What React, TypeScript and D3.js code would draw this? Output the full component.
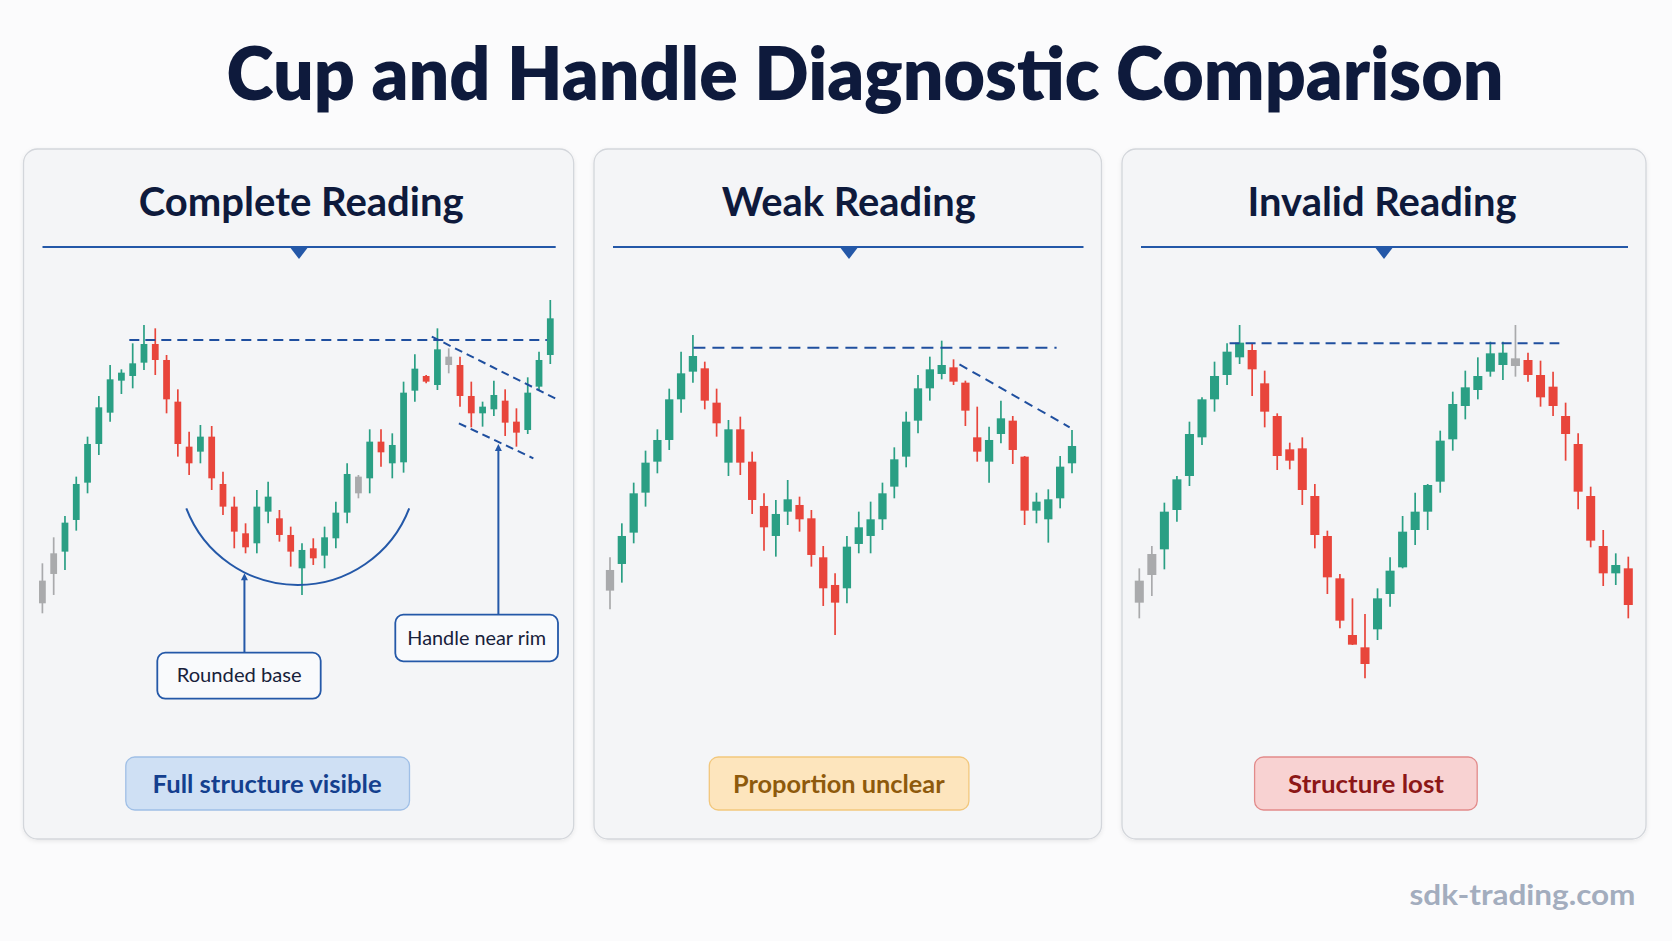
import React from "react";
import * as d3 from "d3";

// ---------------- DATA ----------------
// Panel 1: Complete Reading (46 candles)
const completeOpen = [6.0, 14.8, 21.5, 31, 42.2, 53.8, 63.2, 72.8, 74.2, 78.2, 83.8, 79, 66.5, 53, 51.5, 56, 41.8, 35, 27, 24, 33.5, 31.5, 26.5, 16.5, 22.5, 20.3, 25.5, 33.2, 39, 43.5, 54.5, 48, 48.3, 69.8, 74.2, 71.5, 77.5, 77.5, 68.2, 63, 64.2, 66.8, 60.5, 58, 71, 80.5];
const completeClose = [12.8, 21, 30.2, 41.8, 53.8, 64.8, 73.2, 75.2, 78, 83.8, 79, 67.2, 53.8, 48, 56, 43.5, 35, 27.5, 22.8, 35, 38, 26.5, 21.5, 22, 19.5, 25.8, 33.2, 44.8, 44, 54.5, 51.3, 53.5, 69.2, 76.4, 72.5, 82.2, 80, 68.2, 63, 65, 68.5, 60.2, 57.2, 69.2, 79, 91.5];
const completeHigh = [18, 25.8, 32.2, 44, 56, 68.2, 77.5, 76.2, 84, 89.5, 88.5, 80.5, 70.2, 57.5, 59.5, 59.2, 45.5, 38, 30, 40, 42.5, 34, 29, 24, 25.5, 29, 36.5, 48, 44.5, 58.2, 58.2, 57, 72.5, 80.7, 74.5, 88.5, 82.5, 80, 72.5, 66.5, 72.8, 70.2, 64.5, 73.8, 81.5, 97];
const completeLow = [3, 8.5, 16, 27.8, 39, 50.5, 60.5, 68.8, 70.5, 76, 74.5, 63, 50, 44.5, 48, 40, 32.5, 22.5, 21, 21, 30, 24.5, 17, 8.5, 17.5, 16.5, 22.5, 30, 37.5, 39, 47, 43.5, 45.2, 66.5, 72, 70, 75, 65, 58.8, 59, 62.2, 56.2, 53, 56.8, 70, 77.8];
const completeNeutral = [0, 1, 28, 36];

// Panel 2: Weak Reading (40 candles)
const weakOpen = [15.8, 23.8, 33.2, 45.2, 54.5, 61, 73.2, 81.5, 82.5, 72.2, 54.2, 64.2, 54.5, 41.2, 32.2, 39.5, 41.5, 37.5, 25.8, 17.5, 16.5, 29.8, 32.2, 37.2, 47, 56, 66.8, 76.5, 80.8, 82.8, 78.2, 61.8, 54.5, 62.8, 66.8, 56, 39.8, 37.2, 43.5, 54];
const weakClose = [22, 32.2, 45, 54.2, 61, 73.2, 81, 86.2, 72.8, 66, 64.2, 54.2, 43, 34.8, 38.8, 43.2, 37.2, 26.5, 16.5, 12.2, 29, 34.8, 37.2, 45, 55.2, 66.5, 76.5, 82.2, 83.5, 78.5, 69.8, 57.5, 61, 67.5, 58, 39.8, 42.5, 43.2, 53, 59.2];
const weakHigh = [25.8, 36, 48.2, 57.8, 64.2, 76.4, 87.5, 92.5, 84.5, 76.4, 67, 68, 57.5, 45, 43, 49, 44, 40, 29.2, 21, 32.2, 39.5, 42.5, 48.2, 58.8, 69.5, 80.5, 86, 90.8, 85.2, 78.8, 71, 65, 72.8, 68.2, 56.2, 45.2, 46.2, 56.2, 64];
const weakLow = [10.2, 18.2, 30, 41, 51, 58, 69.2, 78.2, 70.2, 62, 50.2, 50.5, 38.8, 27.8, 26, 35.5, 33.5, 23, 11.2, 2.5, 12, 27, 27, 34, 43.5, 52.8, 63, 72.8, 79.2, 77.5, 65.2, 54.5, 48.2, 60, 53.8, 35.5, 36, 30.2, 40.5, 51];
const weakNeutral = [0];

// Panel 3: Invalid Reading (40 candles)
const invalidOpen = [32.2, 40.5, 48.2, 60, 70.2, 81.8, 93.2, 100.5, 105.8, 108, 98, 88.2, 78.2, 78.5, 64.2, 52.2, 39.5, 22.5, 18.8, 24.2, 34.8, 42.8, 54, 59.5, 68.5, 81.2, 91.2, 96, 101.5, 103.5, 103.2, 105, 100.5, 97, 88.2, 79.8, 64.2, 49.2, 41, 42.5];
const invalidClose = [38.8, 46.8, 59.5, 69.2, 82.8, 93.2, 100.2, 107.5, 110.2, 102.2, 89.5, 76.2, 74.8, 66, 52.5, 39.8, 26.8, 19.6, 13.8, 33.5, 41.8, 53.5, 59.5, 67.5, 80.8, 91.8, 96.8, 100.2, 107, 107.2, 105.5, 100.5, 93.8, 91.2, 82.8, 65.5, 50.8, 41, 43.5, 31.5];
const invalidHigh = [42.5, 49.2, 62.2, 70.2, 86.5, 93.8, 104.5, 110, 115.5, 110, 101.8, 89, 80.2, 81.8, 67.8, 53.8, 40.8, 33.5, 28.8, 36.5, 45.8, 58.2, 65.2, 67.8, 83.8, 95.5, 101.8, 105.8, 110.5, 110.5, 115.5, 107.2, 104.8, 101.5, 92.2, 83, 67, 54, 47, 46];
const invalidLow = [27.5, 34.2, 42.2, 56.5, 67.2, 79.5, 89.5, 97.5, 103.8, 94.2, 84.8, 72, 72.2, 61.5, 48.5, 34.8, 24.5, 19.5, 9.5, 21, 31, 42.5, 49.5, 54, 65.2, 77.8, 87.2, 93.2, 100, 99, 100, 98.5, 91, 88.2, 74.8, 60.2, 48.8, 37.2, 37.5, 27.5];
const invalidNeutral = [0, 1, 30];

// Guide lines: [startIndex, startPrice, endIndex, endPrice]
const completeRim = [7.7, 85, 44.7, 85];
const completeHandleUpper = [34.5, 86, 45.6, 67.2];
const completeHandleLower = [36.9, 60, 43.5, 49.5];
const completeCupArc = [12.75, 34.5, 32.5, 11.5]; // left idx, rim price, right idx, bottom price
const weakRim = [7.04, 88.7, 37.7, 88.7];
const weakSlope = [29.5, 83.7, 38.8, 64.8];
const invalidRim = [7.2, 110, 33.5, 110];

const titleText = "Cup and Handle Diagnostic Comparison";
const panelTitles = ["Complete Reading", "Weak Reading", "Invalid Reading"];
const badgeTexts = ["Full structure visible", "Proportion unclear", "Structure lost"];
const calloutTexts = ["Rounded base", "Handle near rim"];
const watermark = "sdk-trading.com";

// ---------------- STYLE ----------------
const GREEN = "#2a9f84";
const RED = "#e8453b";
const GRAY = "#a9aaac";
const BLUE = "#2458a8";
const DASH = "#1f4f9f";
const NAVY = "#0e1a3c";
const FONT = "Lato, 'Open Sans', sans-serif";

type Series = { open: number[]; high: number[]; low: number[]; close: number[]; neutral: number[] };

const panels = [
  { x0: 23.5, x1: 573.7, cx: 299, headCx: 301.2, headW: 325, xr: [42.4, 550.3], yd: [0, 100], yr: [623.3, 290], bodyFrac: 0.6,
    badge: { x0: 125.8, x1: 409.5, tcx: 267.1, tw: 229, fill: "#cfe0f4", stroke: "#9fbfe6", color: "#143f8e" },
    s: { open: completeOpen, high: completeHigh, low: completeLow, close: completeClose, neutral: completeNeutral } },
  { x0: 594, x1: 1101.5, cx: 849, headCx: 848.8, headW: 254, xr: [610, 1072], yd: [0, 100], yr: [643.3, 310], bodyFrac: 0.7,
    badge: { x0: 709.3, x1: 968.9, tcx: 838.8, tw: 211.7, fill: "#fde5bd", stroke: "#f2c77c", color: "#8e5a0c" },
    s: { open: weakOpen, high: weakHigh, low: weakLow, close: weakClose, neutral: weakNeutral } },
  { x0: 1122, x1: 1646, cx: 1384, headCx: 1382, headW: 269, xr: [1139.3, 1628.3], yd: [0, 120], yr: [710, 310], bodyFrac: 0.72,
    badge: { x0: 1254.6, x1: 1477.2, tcx: 1366, tw: 156, fill: "#f8d2d2", stroke: "#e28b8b", color: "#8c1717" },
    s: { open: invalidOpen, high: invalidHigh, low: invalidLow, close: invalidClose, neutral: invalidNeutral } },
];

function Candles({ s, x, y, bodyW }: { s: Series; x: any; y: any; bodyW: number }) {
  return (
    <g>
      {s.open.map((o, i) => {
        const c = s.close[i];
        const col = s.neutral.includes(i) ? GRAY : c >= o ? GREEN : RED;
        const top = y(Math.max(o, c));
        const bot = y(Math.min(o, c));
        return (
          <g key={i}>
            <line x1={x(i)} x2={x(i)} y1={y(s.high[i])} y2={y(s.low[i])} stroke={col} strokeWidth={1.7} />
            <rect x={x(i) - bodyW / 2} y={top} width={bodyW} height={Math.max(2, bot - top)} fill={col} />
          </g>
        );
      })}
    </g>
  );
}

function DashLine({ seg, x, y, dash = "11 6" }: { seg: number[]; x: any; y: any; dash?: string }) {
  return <line x1={x(seg[0])} y1={y(seg[1])} x2={x(seg[2])} y2={y(seg[3])} stroke={DASH} strokeWidth={2} strokeDasharray={dash} />;
}

export default function App() {
  const scales = panels.map((p) => {
    const n = p.s.open.length;
    const x = d3.scaleLinear().domain([0, n - 1]).range(p.xr);
    const y = d3.scaleLinear().domain(p.yd).range(p.yr);
    const step = (p.xr[1] - p.xr[0]) / (n - 1);
    return { x, y, bodyW: step * p.bodyFrac };
  });

  const { x: x1, y: y1 } = scales[0];
  const { x: x2, y: y2 } = scales[1];
  const { x: x3, y: y3 } = scales[2];

  // cup arc through endpoints and bottom
  const ax1 = x1(completeCupArc[0]);
  const ax2 = x1(completeCupArc[2]);
  const ay = y1(completeCupArc[1]);
  const by = y1(completeCupArc[3]);
  const half = (ax2 - ax1) / 2;
  const depth = by - ay;
  const r = (half * half + depth * depth) / (2 * depth);

  const roundedX = x1(17.9);
  const roundedTip = y1(15);
  const handleX = x1(40.4);
  const handleTip = y1(53.8);

  return (
    <svg width={1672} height={941} viewBox="0 0 1672 941" style={{ position: "absolute", left: 0, top: 0, display: "block" }} fontFamily={FONT}>
      <defs>
        <filter id="sh" x="-5%" y="-5%" width="110%" height="110%">
          <feDropShadow dx="0" dy="1.5" stdDeviation="2" floodColor="#000" floodOpacity="0.08" />
        </filter>
      </defs>
      <rect x={0} y={0} width={1672} height={941} fill="#fbfbfc" />
      <text x={865} y={100} textAnchor="middle" fontSize={74} fontWeight={800} fill={NAVY} textLength={1277} lengthAdjust="spacingAndGlyphs">
        {titleText}
      </text>

      {panels.map((p, k) => (
        <g key={k}>
          <rect x={p.x0} y={149} width={p.x1 - p.x0} height={690} rx={14} fill="#f4f5f7" stroke="#d3d6db" strokeWidth={1.3} filter="url(#sh)" />
          <text x={p.headCx} y={216} textAnchor="middle" fontSize={41} fontWeight={700} fill={NAVY} textLength={p.headW} lengthAdjust="spacingAndGlyphs">
            {panelTitles[k]}
          </text>
          <line x1={p.x0 + 19} x2={p.x1 - 18} y1={247} y2={247} stroke={BLUE} strokeWidth={2} />
          <path d={`M${p.cx - 10},246 L${p.cx + 10},246 L${p.cx},259 Z`} fill={BLUE} />
          <Candles s={p.s} x={scales[k].x} y={scales[k].y} bodyW={scales[k].bodyW} />
          <rect x={p.badge.x0} y={757} width={p.badge.x1 - p.badge.x0} height={53} rx={9} fill={p.badge.fill} stroke={p.badge.stroke} strokeWidth={1.3} />
          <text x={p.badge.tcx} y={793} textAnchor="middle" fontSize={24} fontWeight={700} fill={p.badge.color} textLength={p.badge.tw} lengthAdjust="spacingAndGlyphs">
            {badgeTexts[k]}
          </text>
        </g>
      ))}

      {/* Panel 1 guides */}
      <DashLine seg={completeRim} x={x1} y={y1} dash="10 6" />
      <DashLine seg={completeHandleUpper} x={x1} y={y1} dash="8 5" />
      <DashLine seg={completeHandleLower} x={x1} y={y1} dash="8 5" />
      <path d={`M${ax1},${ay} A${r},${r} 0 0 0 ${ax2},${ay}`} fill="none" stroke={BLUE} strokeWidth={2} />
      <line x1={roundedX} x2={roundedX} y1={roundedTip + 4} y2={652.7} stroke={BLUE} strokeWidth={2} />
      <path d={`M${roundedX - 3.5},${roundedTip + 7} L${roundedX + 3.5},${roundedTip + 7} L${roundedX},${roundedTip} Z`} fill={BLUE} />
      <line x1={handleX} x2={handleX} y1={handleTip + 4} y2={614.7} stroke={BLUE} strokeWidth={2} />
      <path d={`M${handleX - 3.5},${handleTip + 7} L${handleX + 3.5},${handleTip + 7} L${handleX},${handleTip} Z`} fill={BLUE} />

      <rect x={157.3} y={652.7} width={163.4} height={46} rx={8} fill="#f9fafc" stroke={BLUE} strokeWidth={1.8} />
      <text x={239.2} y={682} textAnchor="middle" fontSize={20} fill="#18213a" textLength={125} lengthAdjust="spacingAndGlyphs">
        {calloutTexts[0]}
      </text>
      <rect x={395.3} y={614.7} width={162.7} height={46.6} rx={8} fill="#f9fafc" stroke={BLUE} strokeWidth={1.8} />
      <text x={476.7} y={645} textAnchor="middle" fontSize={20} fill="#18213a" textLength={138.7} lengthAdjust="spacingAndGlyphs">
        {calloutTexts[1]}
      </text>

      {/* Panel 2 guides */}
      <DashLine seg={weakRim} x={x2} y={y2} dash="12 7" />
      <DashLine seg={weakSlope} x={x2} y={y2} dash="9 6" />

      {/* Panel 3 guides */}
      <DashLine seg={invalidRim} x={x3} y={y3} dash="10 6" />

      <text x={1635.5} y={905} textAnchor="end" fontSize={28} fontWeight={700} fill="#a3adbe" textLength={226} lengthAdjust="spacingAndGlyphs">
        {watermark}
      </text>
    </svg>
  );
}
